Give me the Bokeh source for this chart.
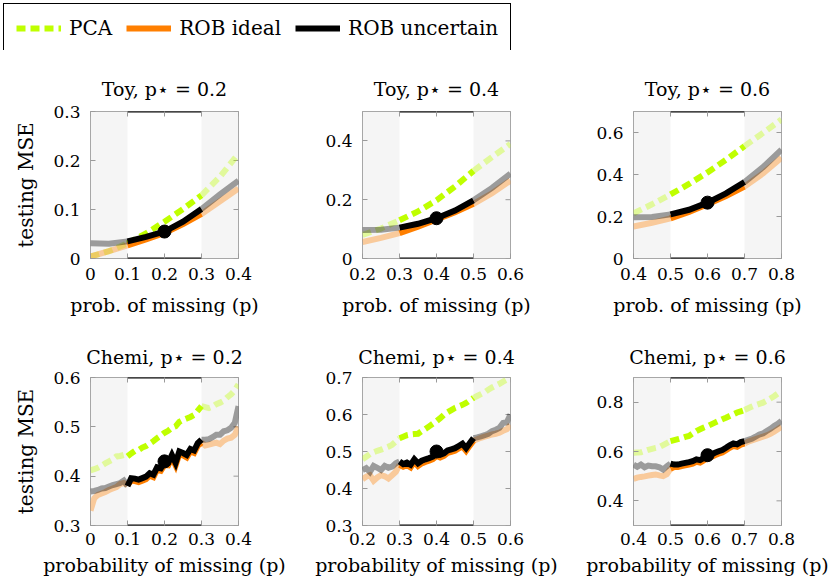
import numpy as np
from bokeh.plotting import figure
from bokeh.models import BoxAnnotation, FixedTicker, Legend, LegendItem
from bokeh.layouts import column, row
from bokeh.embed import file_html
from bokeh.resources import INLINE

FONT = "DejaVu Serif"

# ---------------- data ----------------
legend_labels = ["PCA", "ROB ideal", "ROB uncertain"]
pstars = [0.2, 0.4, 0.6]

# Toy data (x grid of missing probabilities)
toy_x_02 = [0.0, 0.05, 0.1, 0.15, 0.2, 0.25, 0.3, 0.35, 0.4]
toy_pca_02 = [0.004, 0.015, 0.031, 0.051, 0.075, 0.101, 0.129, 0.167, 0.214]
toy_ideal_02 = [0.004, 0.015, 0.027, 0.039, 0.052, 0.070, 0.091, 0.117, 0.143]
toy_unc_02 = [0.031, 0.030, 0.035, 0.044, 0.055, 0.075, 0.101, 0.131, 0.159]

toy_x_04 = [0.2, 0.25, 0.3, 0.35, 0.4, 0.45, 0.5, 0.55, 0.6]
toy_pca_04 = [0.080, 0.102, 0.130, 0.160, 0.198, 0.245, 0.298, 0.345, 0.390]
toy_ideal_04 = [0.056, 0.070, 0.086, 0.108, 0.133, 0.157, 0.186, 0.222, 0.265]
toy_unc_04 = [0.097, 0.098, 0.105, 0.118, 0.137, 0.163, 0.198, 0.240, 0.289]

toy_x_06 = [0.4, 0.45, 0.5, 0.55, 0.6, 0.65, 0.7, 0.75, 0.8]
toy_pca_06 = [0.215, 0.258, 0.305, 0.355, 0.410, 0.470, 0.535, 0.598, 0.662]
toy_ideal_06 = [0.152, 0.170, 0.191, 0.222, 0.258, 0.298, 0.342, 0.405, 0.480]
toy_unc_06 = [0.196, 0.198, 0.210, 0.232, 0.266, 0.310, 0.364, 0.435, 0.518]

# Chemi data (x grid step 0.01)
chemi_x_02 = [round(0.0 + 0.01 * i, 2) for i in range(41)]
chemi_pca_02 = [0.412, 0.414, 0.417, 0.421, 0.426, 0.430, 0.434, 0.440, 0.441, 0.443, 0.440,
                0.446, 0.451, 0.453, 0.458, 0.461, 0.466, 0.471, 0.477, 0.482, 0.488,
                0.492, 0.498, 0.501, 0.510, 0.514, 0.517, 0.520, 0.524, 0.533, 0.542,
                0.540, 0.538, 0.541, 0.546, 0.549, 0.553, 0.560, 0.566, 0.574, 0.586]
chemi_ideal_02 = [0.330, 0.355, 0.362, 0.365, 0.368, 0.372, 0.375, 0.378, 0.384, 0.386, 0.382,
                  0.391, 0.390, 0.388, 0.391, 0.394, 0.401, 0.398, 0.413, 0.411, 0.423,
                  0.422, 0.438, 0.422, 0.445, 0.442, 0.438, 0.450, 0.447, 0.462, 0.468,
                  0.462, 0.464, 0.466, 0.468, 0.465, 0.472, 0.476, 0.478, 0.484, 0.500]
chemi_unc_02 = [0.369, 0.370, 0.372, 0.375, 0.376, 0.379, 0.382, 0.384, 0.386, 0.391, 0.380,
                0.396, 0.395, 0.393, 0.396, 0.399, 0.406, 0.403, 0.418, 0.416, 0.428,
                0.427, 0.443, 0.427, 0.450, 0.447, 0.443, 0.455, 0.452, 0.467, 0.474,
                0.474, 0.475, 0.479, 0.484, 0.484, 0.491, 0.493, 0.498, 0.508, 0.542]

chemi_x_04 = [round(0.2 + 0.01 * i, 2) for i in range(41)]
chemi_pca_04 = [0.479, 0.486, 0.493, 0.498, 0.502, 0.505, 0.509, 0.513, 0.518, 0.527, 0.536,
                0.540, 0.544, 0.546, 0.547, 0.548, 0.555, 0.561, 0.568, 0.575, 0.582,
                0.590, 0.599, 0.606, 0.612, 0.618, 0.622, 0.626, 0.631, 0.638, 0.645,
                0.650, 0.655, 0.660, 0.667, 0.673, 0.678, 0.683, 0.689, 0.694, 0.700]
chemi_ideal_04 = [0.425, 0.432, 0.436, 0.421, 0.430, 0.436, 0.433, 0.427, 0.436, 0.445, 0.464,
                  0.459, 0.463, 0.457, 0.472, 0.461, 0.468, 0.472, 0.475, 0.479, 0.488,
                  0.484, 0.488, 0.496, 0.499, 0.502, 0.508, 0.514, 0.502, 0.516, 0.529,
                  0.533, 0.537, 0.540, 0.543, 0.546, 0.548, 0.551, 0.556, 0.560, 0.572]
chemi_unc_04 = [0.450, 0.455, 0.445, 0.461, 0.456, 0.450, 0.461, 0.456, 0.459, 0.468, 0.473,
                0.466, 0.470, 0.464, 0.479, 0.468, 0.475, 0.479, 0.482, 0.486, 0.495,
                0.491, 0.495, 0.503, 0.506, 0.509, 0.515, 0.521, 0.509, 0.523, 0.536,
                0.538, 0.541, 0.544, 0.548, 0.555, 0.559, 0.564, 0.577, 0.579, 0.600]

chemi_x_06 = [round(0.4 + 0.01 * i, 2) for i in range(41)]
chemi_pca_06 = [0.595, 0.596, 0.597, 0.602, 0.607, 0.611, 0.615, 0.618, 0.626, 0.634, 0.642,
                0.646, 0.650, 0.654, 0.659, 0.663, 0.673, 0.683, 0.690, 0.697, 0.703,
                0.710, 0.717, 0.724, 0.731, 0.737, 0.744, 0.751, 0.758, 0.763, 0.768,
                0.775, 0.782, 0.788, 0.793, 0.798, 0.806, 0.815, 0.824, 0.835, 0.846]
chemi_ideal_06 = [0.489, 0.494, 0.497, 0.499, 0.502, 0.505, 0.507, 0.503, 0.500, 0.508, 0.530,
                  0.537, 0.537, 0.541, 0.544, 0.547, 0.551, 0.558, 0.555, 0.564, 0.571,
                  0.578, 0.585, 0.591, 0.596, 0.605, 0.615, 0.623, 0.619, 0.628, 0.632,
                  0.640, 0.645, 0.650, 0.655, 0.660, 0.665, 0.672, 0.680, 0.690, 0.700]
chemi_unc_06 = [0.547, 0.538, 0.547, 0.536, 0.543, 0.540, 0.540, 0.536, 0.527, 0.540, 0.551,
                0.547, 0.547, 0.551, 0.554, 0.557, 0.561, 0.568, 0.565, 0.574, 0.581,
                0.588, 0.595, 0.601, 0.606, 0.615, 0.625, 0.633, 0.629, 0.638, 0.642,
                0.647, 0.652, 0.660, 0.669, 0.673, 0.683, 0.692, 0.703, 0.712, 0.724]

# marker at p*
toy_dots = [0.055, 0.137, 0.266]
chemi_dots = [0.430, 0.500, 0.585]

# titles and axis labels
toy_titles = ["Toy, p\u22c6 = 0.2", "Toy, p\u22c6 = 0.4", "Toy, p\u22c6 = 0.6"]
chemi_titles = ["Chemi, p\u22c6 = 0.2", "Chemi, p\u22c6 = 0.4", "Chemi, p\u22c6 = 0.6"]
toy_xlabel = "prob. of missing (p)"
chemi_xlabel = "probability of missing (p)"
ylabel = "testing MSE"

# ranges and ticks
x_ranges = [(0.0, 0.4), (0.2, 0.6), (0.4, 0.8)]
x_ticks = [[0.0, 0.1, 0.2, 0.3, 0.4], [0.2, 0.3, 0.4, 0.5, 0.6], [0.4, 0.5, 0.6, 0.7, 0.8]]
x_tick_labels = [["0", "0.1", "0.2", "0.3", "0.4"], ["0.2", "0.3", "0.4", "0.5", "0.6"],
                 ["0.4", "0.5", "0.6", "0.7", "0.8"]]
toy_y_ranges = [(0.0, 0.3), (0.0, 0.5), (0.0, 0.7)]
toy_y_ticks = [[0.0, 0.1, 0.2, 0.3], [0.0, 0.2, 0.4], [0.0, 0.2, 0.4, 0.6]]
toy_y_tick_labels = [["0", "0.1", "0.2", "0.3"], ["0", "0.2", "0.4"], ["0", "0.2", "0.4", "0.6"]]
chemi_y_ranges = [(0.3, 0.6), (0.3, 0.7), (0.3, 0.9)]
chemi_y_ticks = [[0.3, 0.4, 0.5, 0.6], [0.3, 0.4, 0.5, 0.6, 0.7], [0.4, 0.6, 0.8]]
chemi_y_tick_labels = [["0.3", "0.4", "0.5", "0.6"], ["0.3", "0.4", "0.5", "0.6", "0.7"],
                       ["0.4", "0.6", "0.8"]]

# ---------------- style ----------------
PCA_COLOR = "#bfff00"
IDEAL_COLOR = "#ff7f00"
UNC_COLOR = "black"
FADE = 0.37
SHADE = "#f5f5f5"
TICK_COLOR = "#9a9a9a"

col_widths = [300, 272, 263]
col_mbl = [90, 62, 61]
col_mbr = [62, 62, 54]


def style_axis(ax, ticks, labels):
    ax.ticker = FixedTicker(ticks=ticks)
    ax.major_label_overrides = {t: l for t, l in zip(ticks, labels)}
    ax.axis_line_color = None
    ax.major_tick_in = 5
    ax.major_tick_out = 0
    ax.major_tick_line_color = TICK_COLOR
    ax.minor_tick_line_color = None
    ax.major_label_text_font = FONT
    ax.major_label_text_color = "black"
    ax.major_label_text_font_size = "17px"
    ax.axis_label_text_font = FONT
    ax.axis_label_text_font_style = "normal"
    ax.axis_label_text_font_size = "19px"
    ax.axis_label_text_color = "black"


def make_panel(col, title, pstar, xs, pca, ideal, unc, dot, xr, yr, xt, xtl, yt, ytl,
               xlabel, height, mbt, mbb, title_standoff, x_std, xl_std):
    p = figure(width=col_widths[col], height=height, x_range=xr, y_range=yr,
               toolbar_location=None, output_backend="svg",
               min_border_left=col_mbl[col], min_border_right=col_mbr[col],
               min_border_top=mbt, min_border_bottom=mbb)
    p.title.text = title
    p.title.align = "center"
    p.title.text_font = FONT
    p.title.text_font_style = "normal"
    p.title.text_font_size = "19px"
    p.title.text_color = "black"
    p.title.standoff = title_standoff
    p.xgrid.visible = False
    p.ygrid.visible = False
    p.outline_line_color = "#8c8c8c"
    p.outline_line_width = 1
    p.background_fill_color = "white"
    p.border_fill_color = "white"

    style_axis(p.xaxis[0], xt, xtl)
    p.xaxis[0].axis_label = xlabel
    p.xaxis[0].major_label_standoff = x_std
    p.xaxis[0].axis_label_standoff = xl_std
    style_axis(p.yaxis[0], yt, ytl)
    p.yaxis[0].major_label_standoff = 10
    if col == 0:
        p.yaxis[0].axis_label = ylabel
        p.yaxis[0].axis_label_standoff = 12
        p.yaxis[0].axis_label_text_font_size = "20px"

    lo, hi = pstar - 0.1, pstar + 0.1
    p.add_layout(BoxAnnotation(left=xr[0], right=lo, fill_color=SHADE, fill_alpha=1.0,
                               line_color=None, level="underlay"))
    p.add_layout(BoxAnnotation(left=hi, right=xr[1], fill_color=SHADE, fill_alpha=1.0,
                               line_color=None, level="underlay"))
    p.segment(x0=[lo, lo], x1=[hi, hi], y0=[yr[0], yr[1]], y1=[yr[0], yr[1]],
              line_color="black", line_width=2)

    # mirrored inner ticks on the top and right edges
    p.scatter(x=xt, y=[yr[1]] * len(xt), marker="dash", size=10, angle=np.pi / 2,
              line_color=TICK_COLOR, line_width=1)
    p.scatter(x=[xr[1]] * len(yt), y=yt, marker="dash", size=10,
              line_color=TICK_COLOR, line_width=1)

    x = np.array(xs)
    eps = 1e-9
    m_left = x <= lo + eps
    m_mid = (x >= lo - eps) & (x <= hi + eps)
    m_right = x >= hi - eps

    def draw(vals, color, width, dash):
        v = np.array(vals)
        for m, a in ((m_left, FADE), (m_right, FADE), (m_mid, 1.0)):
            p.line(x[m], v[m], line_color=color, line_width=width, line_alpha=a,
                   line_dash=dash, line_join="miter")

    draw(pca, PCA_COLOR, 6, "9 5")
    draw(ideal, IDEAL_COLOR, 6, "solid")
    draw(unc, UNC_COLOR, 6, "solid")
    p.scatter(x=[pstar], y=[dot], size=13, color="black")
    return p


toy_data = [(toy_x_02, toy_pca_02, toy_ideal_02, toy_unc_02),
            (toy_x_04, toy_pca_04, toy_ideal_04, toy_unc_04),
            (toy_x_06, toy_pca_06, toy_ideal_06, toy_unc_06)]
chemi_data = [(chemi_x_02, chemi_pca_02, chemi_ideal_02, chemi_unc_02),
              (chemi_x_04, chemi_pca_04, chemi_ideal_04, chemi_unc_04),
              (chemi_x_06, chemi_pca_06, chemi_ideal_06, chemi_unc_06)]

row1 = []
row2 = []
for i in range(3):
    xs, pca, ideal, unc = toy_data[i]
    row1.append(make_panel(i, toy_titles[i], pstars[i], xs, pca, ideal, unc, toy_dots[i],
                           x_ranges[i], toy_y_ranges[i], x_ticks[i], x_tick_labels[i],
                           toy_y_ticks[i], toy_y_tick_labels[i], toy_xlabel,
                           272, 61, 64, 23, 9, 11))
    xs, pca, ideal, unc = chemi_data[i]
    row2.append(make_panel(i, chemi_titles[i], pstars[i], xs, pca, ideal, unc, chemi_dots[i],
                           x_ranges[i], chemi_y_ranges[i], x_ticks[i], x_tick_labels[i],
                           chemi_y_ticks[i], chemi_y_tick_labels[i], chemi_xlabel,
                           264, 55, 61, 20, 7, 6))

# ---------------- legend ----------------
lf = figure(width=525, height=50, toolbar_location=None, output_backend="svg",
            x_range=(0, 1), y_range=(0, 1), x_axis_type=None, y_axis_type=None,
            min_border=0)
lf.grid.visible = False
lf.outline_line_color = None
nan = np.array([np.nan])
r_pca = lf.line(x=nan, y=nan, line_color=PCA_COLOR, line_width=6, line_dash="9 5")
r_ideal = lf.line(x=nan, y=nan, line_color=IDEAL_COLOR, line_width=6)
r_unc = lf.line(x=nan, y=nan, line_color=UNC_COLOR, line_width=6)
leg = Legend(items=[LegendItem(label=legend_labels[0], renderers=[r_pca]),
                    LegendItem(label=legend_labels[1], renderers=[r_ideal]),
                    LegendItem(label=legend_labels[2], renderers=[r_unc])],
             orientation="horizontal", location="top_left", margin=3, padding=12,
             spacing=14, glyph_width=45, glyph_height=20, label_height=20,
             label_standoff=8, label_text_font=FONT, label_text_font_size="20px",
             label_text_color="black",
             border_line_color="black", border_line_width=1, border_line_alpha=1.0,
             background_fill_color="white", background_fill_alpha=1.0)
lf.add_layout(leg)

layout = column(lf, row(*row1), row(*row2))
open("out.html", "w").write(file_html(layout, INLINE))
